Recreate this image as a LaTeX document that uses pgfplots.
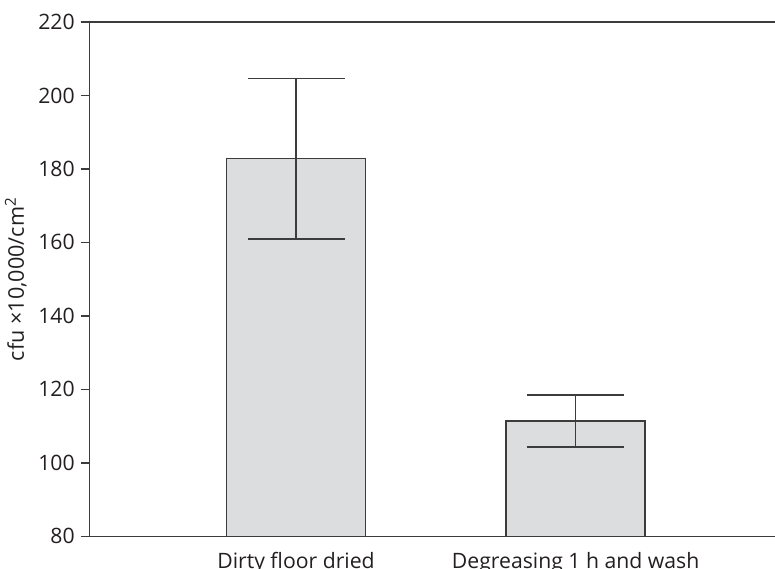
\documentclass[border=0pt]{standalone}
\usepackage{fontspec}
\setmainfont{Open Sans}
\usepackage{pgfplots}
\pgfplotsset{compat=1.18}
\definecolor{barfill}{HTML}{DCDDDF}
\definecolor{linec}{HTML}{3C3C3C}
\definecolor{textc}{HTML}{231F20}
\begin{document}
\begin{tikzpicture}
\begin{axis}[
  at={(0,0)}, anchor=south west,
  scale only axis,
  width=342.65pt, height=257.15pt,
  xmin=0.262, xmax=2.713,
  ymin=80, ymax=220,
  ytick={80,100,...,220},
  xtick={1,2},
  xticklabels={Dirty floor dried, Degreasing 1 h and wash},
  axis lines=left,
  axis line style={-, draw=linec, line width=0.8pt},
  tick align=outside,
  major tick length=4.5pt,
  ytick style={draw=linec, line width=0.8pt},
  xtick style={draw=none},
  /pgf/number format/assume math mode=true,
  tick label style={font=\fontsize{10.6}{12}\selectfont, text=textc},
  yticklabel style={xshift=0.5pt},
  xticklabel style={anchor=base, yshift=-11.4pt},
  ylabel={cfu ×10,000/cm\textsuperscript{2}},
  ylabel style={font=\fontsize{10.8}{12}\selectfont, text=textc, yshift=-1pt},
  ybar, bar width=69.5pt,
  clip=false,
]
\addplot[fill=barfill, draw=linec, line width=0.8pt,
  error bars/.cd, y dir=both, y explicit,
  error bar style={draw=linec, line width=0.8pt},
  error mark options={draw=linec, line width=0.8pt, mark size=24.25pt, rotate=90}]
  coordinates {(1,182.8) +- (0,21.8) (2,111.4) +- (0,7.1)};
\draw[draw=linec, line width=0.8pt] (rel axis cs:0,1) -- (rel axis cs:1,1);
\end{axis}
\pgfresetboundingbox
\path (-44.85pt,-15.85pt) rectangle (342.65pt,268.15pt);
\end{tikzpicture}
\end{document}
